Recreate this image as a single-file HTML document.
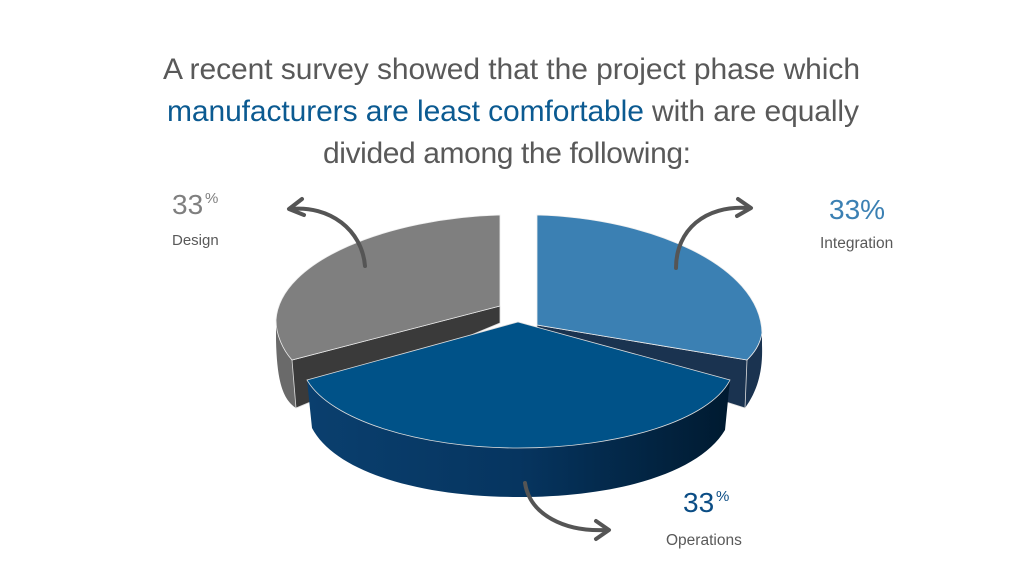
<!DOCTYPE html>
<html><head><meta charset="utf-8"><style>
html,body{margin:0;padding:0;background:#fff;}
svg{display:block;font-family:"Liberation Sans",Arial,sans-serif;}
</style></head><body>
<svg width="1024" height="576" viewBox="0 0 1024 576" xmlns="http://www.w3.org/2000/svg">
<defs>
<linearGradient id="side" x1="0" x2="1" y1="0" y2="0">
<stop offset="0" stop-color="#0a3f6e"/><stop offset="0.5" stop-color="#063560"/><stop offset="1" stop-color="#001a30"/>
</linearGradient>
</defs>
<g font-size="30" fill="#595959">
<text x="163" y="79" textLength="697" lengthAdjust="spacing">A recent survey showed that the project phase which</text>
<text x="167" y="121" textLength="692" lengthAdjust="spacing"><tspan fill="#0b5a91">manufacturers are least comfortable</tspan> with are equally</text>
<text x="323" y="163" textLength="368" lengthAdjust="spacing">divided among the following:</text>
</g>
<path d="M276,320 C276,335 283,350 292,360 L296,408 C284,400 277,385 276,340 Z" fill="#6a6a6a"/>
<path d="M500,306 L500,323 L296,408 L292,360 Z" fill="#3a3a3a" stroke="#ddd" stroke-width="0.8"/>
<path d="M500,215 C390,218 280,260 276,320 C276,335 283,350 292,360 L500,306 Z" fill="#7f7f7f" stroke="#eee" stroke-width="0.8"/>
<path d="M762,333 C760,345 754,353 747,360 L745,408 C758,390 763,370 762,345 Z" fill="#1a3350"/>
<path d="M537,325 L747,360 L745,408 L537,342 Z" fill="#1a3350" stroke="#ddd" stroke-width="0.8"/>
<path d="M537,325 L537,215 C650,218 760,265 762,333 C760,345 754,353 747,360 Z" fill="#3b80b3" stroke="#eee" stroke-width="0.8"/>
<path d="M307,380 C330,420 420,448 518,448 C620,448 710,420 730,380 L725,430 C700,472 620,497 518,497 C420,497 335,472 312,428 Z" fill="url(#side)"/>
<path d="M518,322 L307,380 C330,420 420,448 518,448 C620,448 710,420 730,380 Z" fill="#005288" stroke="#ddd" stroke-width="0.8"/>
<g fill="none" stroke="#555" stroke-width="4" stroke-linecap="round" stroke-linejoin="round">
<path d="M365,266 C362,230 330,205 290,209"/>
<path d="M302,199 L289,209 L304,215"/>
<path d="M676,268 C676,230 705,205 748,208"/>
<path d="M738,199 L751,208 L737,216"/>
<path d="M525,483 C530,515 565,532 606,530"/>
<path d="M596,521 L609,530 L596,539"/>
</g>
<text x="172" y="214" font-size="28" fill="#7f7f7f">33</text>
<text x="205" y="203" font-size="15" fill="#7f7f7f">%</text>
<text x="172" y="245" font-size="15" fill="#595959">Design</text>
<text x="829" y="219" font-size="28" fill="#3b80b3">33%</text>
<text x="820" y="248" font-size="15.5" fill="#595959">Integration</text>
<text x="683" y="512" font-size="28" fill="#0b4d85">33</text>
<text x="716" y="501" font-size="15" fill="#0b4d85">%</text>
<text x="666" y="545" font-size="15.5" fill="#595959">Operations</text>
</svg>
</body></html>
